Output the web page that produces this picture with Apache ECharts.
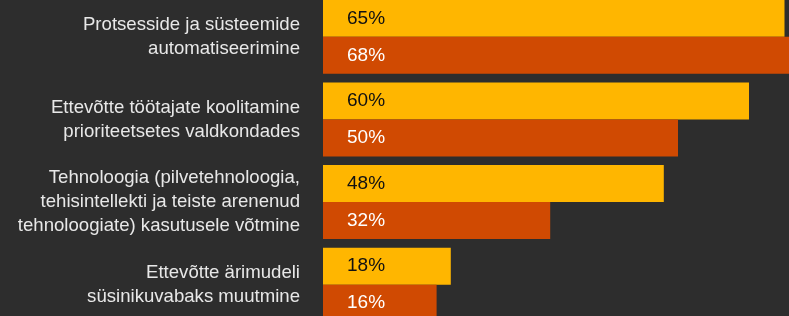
<!DOCTYPE html>
<html>
<head>
<meta charset="utf-8">
<script src="https://cdn.jsdelivr.net/npm/echarts@6/dist/echarts.min.js"></script>
<style>
html,body{margin:0;padding:0;background:#2d2d2d;}
#chart{width:789px;height:316px;}
</style>
</head>
<body>
<div id="chart"></div>
<script>
var categories = [
  "Protsesside ja süsteemide\nautomatiseerimine",
  "Ettevõtte töötajate koolitamine\nprioriteetsetes valdkondades",
  "Tehnoloogia (pilvetehnoloogia,\ntehisintellekti ja teiste arenenud\ntehnoloogiate) kasutusele võtmine",
  "Ettevõtte ärimudeli\nsüsinikuvabaks muutmine"
];
var seriesA = [65, 60, 48, 18];
var seriesB = [68, 50, 32, 16];

var chart = echarts.init(document.getElementById('chart'), null, {renderer: 'canvas'});
var font = '"Liberation Sans", Arial, Helvetica, sans-serif';
chart.setOption({
  backgroundColor: '#2d2d2d',
  animation: false,
  grid: {left: 323, top: -4.5, width: 710, height: 330.5, containLabel: false, outerBoundsMode: 'none'},
  xAxis: {type: 'value', min: 0, max: 100, show: false},
  yAxis: {
    type: 'category', data: categories, inverse: true,
    axisLine: {show: false}, axisTick: {show: false}, splitLine: {show: false},
    axisLabel: {
      color: '#e8e8e8', fontSize: 18.6, lineHeight: 24, fontFamily: font,
      margin: 23, align: 'right'
    }
  },
  series: [
    {
      name: 'A', type: 'bar', data: seriesA, barWidth: 37, barGap: '0%', clip: false,
      itemStyle: {color: '#FFB600'},
      label: {show: true, position: 'insideLeft', distance: 24, formatter: '{c}%',
        color: '#111111', fontSize: 19, fontFamily: font}
    },
    {
      name: 'B', type: 'bar', data: seriesB, barWidth: 37, barGap: '0%', clip: false,
      itemStyle: {color: '#D04A02'},
      label: {show: true, position: 'insideLeft', distance: 24, formatter: '{c}%',
        color: '#ffffff', fontSize: 19, fontFamily: font}
    }
  ]
});
</script>
</body>
</html>
